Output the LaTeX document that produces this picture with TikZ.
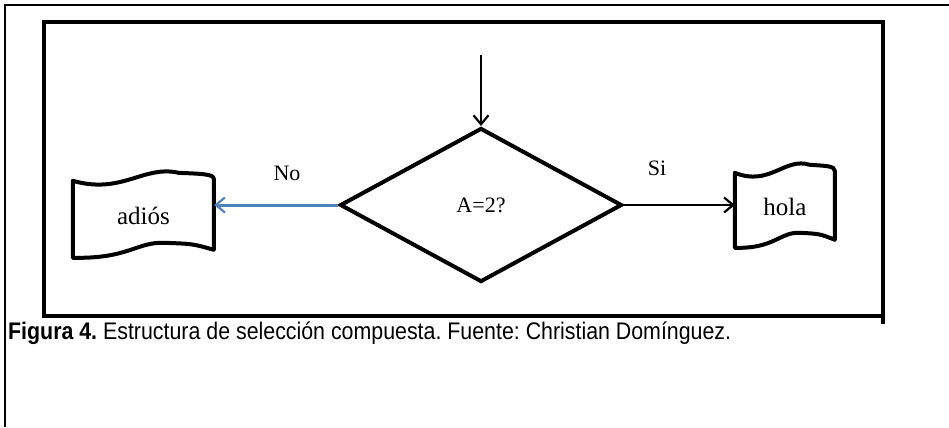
\documentclass[tikz,border=0pt]{standalone}
\usepackage{fontspec}
\setmainfont{Liberation Serif}
\newfontfamily\capfont{Liberation Sans}
\usetikzlibrary{arrows.meta,shapes.geometric,calc}
\definecolor{noblue}{HTML}{4F81BD}
\tikzset{
  frameline/.style={line width=4.5bp,line cap=rect},
  outerline/.style={line width=1.8bp},
  docline/.style={line width=4bp,line join=round,line cap=round},
  conn/.style={line width=2.5bp,-{Straight Barb[length=9bp,width=15bp,line width=2.2bp]}},
  lbl/.style={font=\fontsize{22bp}{24bp}\selectfont,inner sep=0pt},
  docnode/.style={inner sep=0pt,font=\fontsize{25bp}{27bp}\selectfont}
}
\newcommand\docpath[3]{%
  \draw[docline,shift={(#1.north west)}]
    (0,8) .. controls (0.35*#2,22) and (0.5*#2,-8) .. (0.75*#2,0)
    .. controls (0.9*#2,1) and (#2,1) .. (#2,6)
    -- (#2,#3-8)
    .. controls (0.85*#2,#3-14) .. (0.65*#2,#3-15)
    .. controls (0.45*#2,#3-16) and (0.4*#2,#3+1) .. (0,#3)
    -- cycle;}
\begin{document}
\frenchspacing
\begin{tikzpicture}[x=1bp,y=-1bp]
\useasboundingbox (0,0) rectangle (949,427);
% outer frame
\draw[outerline] (5,427) -- (5,5) -- (949,5);
% inner frame
\draw[frameline] (44,22) rectangle (883,316);
\draw[line width=3.5bp] (883,316) -- (883,324);
% decision
\node[diamond,draw,line width=4bp,minimum width=282bp,minimum height=154bp,inner sep=0pt,aspect=1.83,
  font=\fontsize{22bp}{24bp}\selectfont] (dec) at (481,205) {A=2?};
\coordinate (start) at (481,55);
\draw[conn] (start) -- (dec.north);
% documents
\node[docnode,minimum width=141bp,minimum height=85bp] (adios) at (143.5,215.5) {adiós};
\docpath{adios}{141}{85}
\node[docnode,minimum width=100bp,minimum height=83bp] (hola) at (785,206.5) {hola};
\docpath{hola}{100}{83}
% connectors
\draw[conn,draw=noblue,line width=3bp] (dec.west) -- (adios.east |- dec.west);
\draw[conn] (dec.east) -- (hola.west |- dec.east);
\node[lbl] (no) at (287,173) {No};
\node[lbl] (si) at (657,168) {Si};
% caption
\node[anchor=west,inner sep=0pt,xscale=0.89,font=\capfont\fontsize{24bp}{27bp}\selectfont] (cap) at (8,333)
  {\textbf{Figura 4.} Estructura de selección compuesta. Fuente: Christian Domínguez.};
\end{tikzpicture}
\end{document}
